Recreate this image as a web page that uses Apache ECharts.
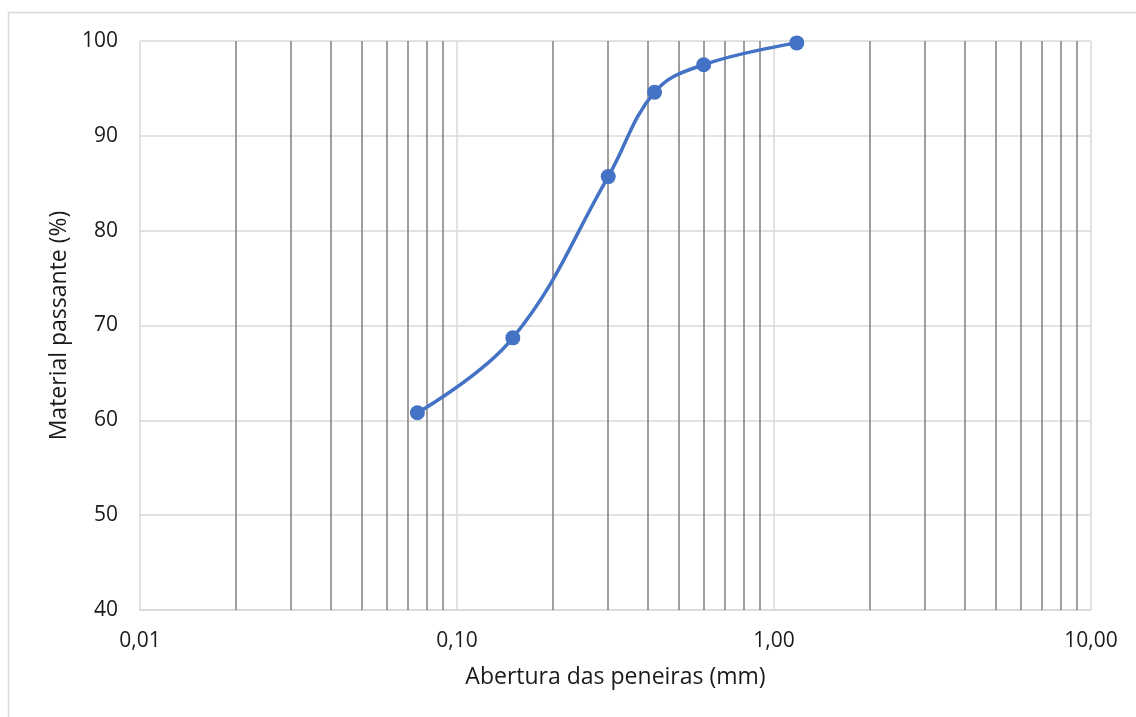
<!DOCTYPE html>
<html>
<head>
<meta charset="utf-8">
<script src="https://cdn.jsdelivr.net/npm/echarts@6/dist/echarts.min.js"></script>
<style>
  html, body { margin: 0; padding: 0; background: #fff; }
  #map { width: 1136px; height: 717px; }
</style>
</head>
<body>
<div id="map"></div>
<script>
// abertura das peneiras (mm) e material passante (%)
var aberturas = [0.075, 0.15, 0.3, 0.42, 0.6, 1.18];
var passante = [60.8, 68.7, 85.7, 94.6, 97.5, 99.8];
// linhas secundarias da escala log
var linhasMenores = [0.02, 0.03, 0.04, 0.05, 0.06, 0.07, 0.08, 0.09,
	0.2, 0.3, 0.4, 0.5, 0.6, 0.7, 0.8, 0.9,
	2, 3, 4, 5, 6, 7, 8, 9];

var myChart = echarts.init(document.getElementById('map'));

var pontos = [];
for (var i = 0; i < aberturas.length; i++) {
	pontos.push([aberturas[i], passante[i]]);
}

var fonte = '"Open Sans", sans-serif';

var option = {
	animation: false,
	backgroundColor: '#fff',
	graphic: [{
		type: 'rect',
		shape: { x: 8.5, y: 12.5, width: 1200, height: 800 },
		style: { fill: 'none', stroke: '#d9d9d9', lineWidth: 1.5 },
		silent: true
	}],
	grid: {
		left: 140,
		right: 45,
		top: 41,
		bottom: 107
	},
	xAxis: {
		type: 'log',
		logBase: 10,
		min: 0.01,
		max: 10,
		name: 'Abertura das peneiras (mm)',
		nameLocation: 'middle',
		nameGap: 56,
		nameTextStyle: { fontFamily: fonte, fontSize: 23, color: '#1a1a1a' },
		axisLine: { lineStyle: { color: '#d9d9d9', width: 1.5 } },
		axisTick: { show: false },
		axisLabel: {
			margin: 21,
			fontFamily: fonte,
			fontSize: 21,
			color: '#1a1a1a',
			formatter: function(v) {
				return v.toFixed(2).replace('.', ',');
			}
		},
		splitLine: { show: true, lineStyle: { color: '#d9d9d9', width: 1.5 } }
	},
	yAxis: {
		type: 'value',
		min: 40,
		max: 100,
		interval: 10,
		name: 'Material passante (%)',
		nameLocation: 'middle',
		nameGap: 66,
		nameTextStyle: { fontFamily: fonte, fontSize: 23, color: '#1a1a1a' },
		axisLine: { show: false },
		axisTick: { show: false },
		axisLabel: { margin: 22, fontFamily: fonte, fontSize: 21, color: '#1a1a1a' },
		splitLine: { lineStyle: { color: '#d9d9d9', width: 1.5 } }
	},
	series: [{
			name: 'grade',
			type: 'line',
			data: [],
			z: 1,
			silent: true,
			markLine: {
				silent: true,
				symbol: ['none', 'none'],
				label: { show: false },
				lineStyle: { color: '#7f7f7f', width: 1.5, type: 'solid' },
				data: linhasMenores.map(function(v) { return { xAxis: v }; })
			}
		},
		{
			name: 'passante',
			type: 'line',
			z: 5,
			smooth: 0.4,
			data: pontos,
			symbol: 'circle',
			symbolSize: 15,
			itemStyle: { color: '#4472c4' },
			lineStyle: { color: '#4472c4', width: 3.5 }
		}
	]
};

myChart.setOption(option);
</script>
</body>
</html>
